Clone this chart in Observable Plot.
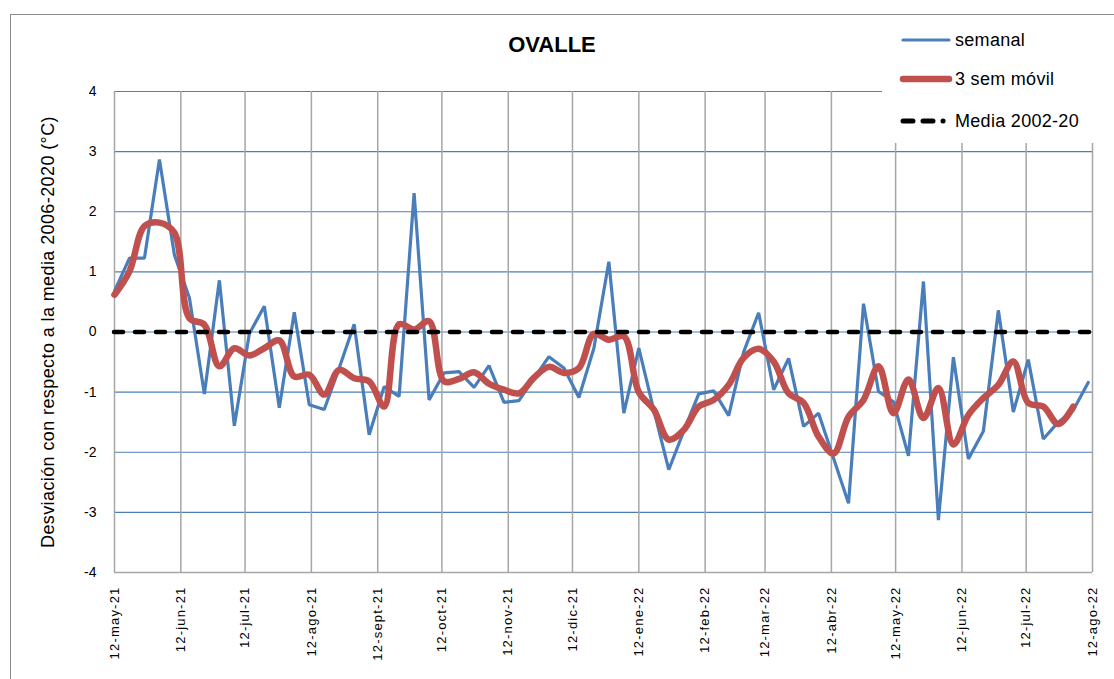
<!DOCTYPE html>
<html>
<head>
<meta charset="utf-8">
<script src="https://cdn.jsdelivr.net/npm/d3@7"></script>
<script src="https://cdn.jsdelivr.net/npm/@observablehq/plot@0.6"></script>
<style>
  body { margin: 0; background: #fff; font-family: "Liberation Sans", Arial, sans-serif; }
  #wrap { position: relative; width: 1114px; height: 679px; overflow: hidden; background: #fff; }
  #chart { position: absolute; left: 0; top: 0; }
  #border { position: absolute; left: 10px; top: 14px; width: 1200px; height: 800px; border: 1px solid #8c8c8c; pointer-events: none; }
  #title { position: absolute; top: 32px; left: 0; width: 1104px; text-align: center; font-weight: bold; font-size: 22px; color: #000; }
  #legend { position: absolute; left: 882px; top: 22px; width: 232px; height: 121px; background: #fff; }
  #legend .item { position: absolute; left: 0; height: 30px; width: 232px; }
  #legend svg { position: absolute; left: 0; top: 0; }
  #legend span { position: absolute; left: 73px; top: 4px; font-size: 18px; color: #000; letter-spacing: 0.3px; }
  g[aria-label="x-axis tick label"] text { letter-spacing: 1.2px; }
  .ylab text { letter-spacing: 0.4px; }
</style>
</head>
<body>
<div id="wrap">
  <div id="chart"></div>
  <div id="border"></div>
  <div id="title">OVALLE</div>
  <div id="legend"></div>
</div>
<script>
// ---- data ----
const startDate = "2021-05-12"; // first weekly value
const semanal = [
  0.68, 1.23, 1.23, 2.87, 1.28, 0.57, -1.03, 0.86, -1.56, -0.03, 0.43, -1.26,
  0.33, -1.21, -1.29, -0.60, 0.13, -1.71, -0.91, -1.07, 2.31, -1.13, -0.68, -0.66,
  -0.92, -0.56, -1.17, -1.14, -0.77, -0.41, -0.60, -1.09, -0.27, 1.17, -1.35, -0.27,
  -1.30, -2.29, -1.65, -1.03, -0.98, -1.39, -0.33, 0.32, -0.96, -0.44, -1.57, -1.35,
  -2.10, -2.85, 0.47, -0.99, -1.16, -2.06, 0.84, -3.13, -0.42, -2.11, -1.65, 0.36,
  -1.33, -0.46, -1.78, -1.50, -1.30, -0.84
];
const movil = [
  0.62, 1.01, 1.76, 1.82, 1.65, 0.23, 0.12, -0.57, -0.27, -0.39, -0.27, -0.14,
  -0.74, -0.71, -1.04, -0.63, -0.77, -0.82, -1.24, 0.13, 0.04, 0.18, -0.82, -0.78,
  -0.67, -0.86, -0.96, -1.02, -0.76, -0.58, -0.68, -0.60, -0.03, -0.13, -0.07, -1.00,
  -1.29, -1.79, -1.63, -1.24, -1.13, -0.88, -0.43, -0.28, -0.49, -1.02, -1.18, -1.74,
  -2.02, -1.41, -1.13, -0.57, -1.35, -0.79, -1.43, -0.93, -1.87, -1.38, -1.10, -0.88,
  -0.49, -1.18, -1.24, -1.53, -1.24
];
const media = [0];
const tickDates = [
  "2021-05-12", "2021-06-12", "2021-07-12", "2021-08-12", "2021-09-12", "2021-10-12",
  "2021-11-12", "2021-12-12", "2022-01-12", "2022-02-12", "2022-03-12", "2022-04-12",
  "2022-05-12", "2022-06-12", "2022-07-12", "2022-08-12"
];
const tickLabels = [
  "12-may-21", "12-jun-21", "12-jul-21", "12-ago-21", "12-sept-21", "12-oct-21",
  "12-nov-21", "12-dic-21", "12-ene-22", "12-feb-22", "12-mar-22", "12-abr-22",
  "12-may-22", "12-jun-22", "12-jul-22", "12-ago-22"
];
const yTicks = [-4, -3, -2, -1, 0, 1, 2, 3, 4];
const yLabel = "Desviación con respecto a la media 2006-2020 (°C)";
const seriesNames = ["semanal", "3 sem móvil", "Media 2002-20"];
const colors = { semanal: "#4a7ebb", movil: "#c0504d", media: "#000000" };

// ---- build tables ----
const start = new Date(startDate + "T00:00:00Z");
const weekDate = i => d3.utcDay.offset(start, 7 * i);
const semData = semanal.map((v, i) => ({ date: weekDate(i), value: v }));
const movData = movil.map((v, i) => ({ date: weekDate(i), value: v }));
const tickObjs = tickDates.map(s => new Date(s + "T00:00:00Z"));
const labelByTime = new Map(tickObjs.map((d, i) => [+d, tickLabels[i]]));

const chart = Plot.plot({
  width: 1114,
  height: 679,
  marginLeft: 114,
  marginRight: 22,
  marginTop: 91,
  marginBottom: 107,
  x: { type: "utc", domain: [tickObjs[0], tickObjs[tickObjs.length - 1]] },
  y: { domain: [-4, 4] },
  style: { fontFamily: "'Liberation Sans', Arial, sans-serif", background: "transparent", color: "#000", overflow: "visible" },
  marks: [
    Plot.gridY({ ticks: yTicks, stroke: colors.semanal, strokeOpacity: 1, strokeWidth: 1.2 }),
    Plot.gridX({ ticks: tickObjs, stroke: "#a6a6a6", strokeOpacity: 1, strokeWidth: 1.5 }),
    Plot.ruleY([-4], { stroke: "#a6a6a6", strokeWidth: 1.5 }),
    Plot.axisY({ ticks: yTicks, tickSize: 0, tickPadding: 18, fontSize: 14, tickFormat: d => String(d), label: null }),
    Plot.text([yLabel], { text: d => d, frameAnchor: "left", textAnchor: "middle", lineAnchor: "middle", dx: -66, rotate: -90, fontSize: 18, fill: "#000", className: "ylab" }),
    Plot.axisX({ ticks: tickObjs, tickFormat: d => labelByTime.get(+d), tickSize: 0, tickPadding: 14, tickRotate: -90, fontSize: 13, label: null }),
    Plot.line(semData, { x: "date", y: "value", stroke: colors.semanal, strokeWidth: 3.2, strokeLinejoin: "miter" }),
    Plot.line(movData, { x: "date", y: "value", stroke: colors.movil, strokeWidth: 6.5, curve: "catmull-rom", strokeLinecap: "round" }),
    Plot.ruleY(media, { y: d => d, stroke: colors.media, strokeWidth: 4.5, strokeDasharray: "9,12", strokeLinecap: "round" })
  ]
});
document.getElementById("chart").appendChild(chart);

// ---- legend ----
const legend = document.getElementById("legend");
const legendRows = [
  { name: seriesNames[0], y: 4, stroke: colors.semanal, width: 3.2, dashed: false },
  { name: seriesNames[1], y: 43, stroke: colors.movil, width: 6.5, dashed: false },
  { name: seriesNames[2], y: 85, stroke: colors.media, width: 5, dashed: true }
];
legendRows.forEach(r => {
  const div = document.createElement("div");
  div.className = "item";
  div.style.top = r.y + "px";
  const dash = r.dashed ? `stroke-dasharray="10,10,10,10,0.1,100"` : "";
  div.innerHTML =
    `<svg width="80" height="30"><line x1="21" x2="67" y1="14" y2="14" stroke="${r.stroke}" stroke-width="${r.width}" stroke-linecap="round" ${dash}/></svg><span>${r.name}</span>`;
  legend.appendChild(div);
});
</script>
</body>
</html>
